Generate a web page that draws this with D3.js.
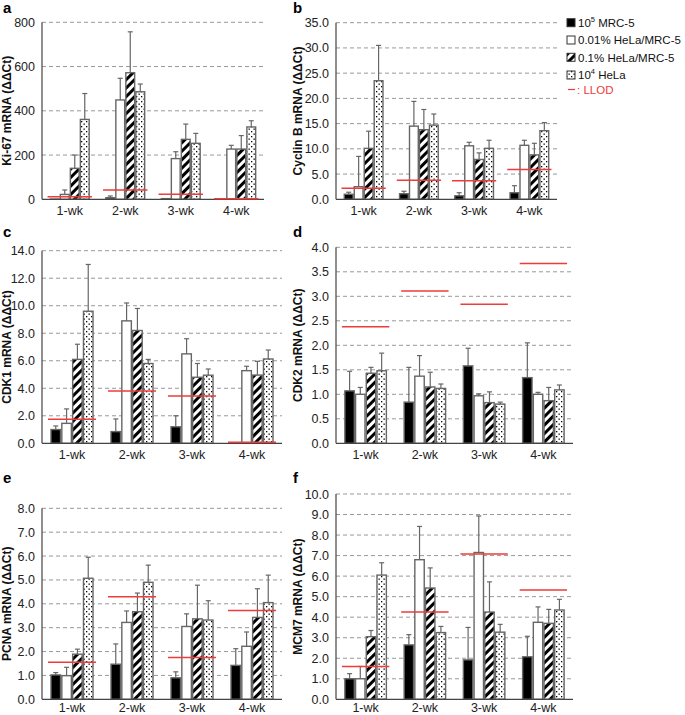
<!DOCTYPE html>
<html><head><meta charset="utf-8">
<script src="https://cdn.jsdelivr.net/npm/d3@7"></script>
<style>body{margin:0;background:#fff;} svg{display:block;font-family:"Liberation Sans",Arial,sans-serif;}</style>
</head><body>
<script>
// ---------- data ----------
const weeks = ["1-wk","2-wk","3-wk","4-wk"];
const seriesKeys = ["mrc5","hela001","hela01","hela"];

// Ki-67 (a)
const ki67Mean = {mrc5:[1,7,3,0], hela001:[22,449,184,227], hela01:[140,572,271,227], hela:[361,486,253,327]};
const ki67Sd   = {mrc5:[0,8,0,0], hela001:[20,98,31,17], hela01:[60,185,69,61], hela:[117,35,45,28]};
const ki67Llod = [12,42,23,2];
const ki67Ticks = [0,200,400,600,800];

// Cyclin B (b)
const cycMean = {mrc5:[1.0,1.1,0.7,1.3], hela001:[2.5,14.5,10.6,10.7], hela01:[10.1,13.8,7.9,8.8], hela:[23.5,14.7,10.1,13.6]};
const cycSd   = {mrc5:[0.4,0.5,0.6,1.4], hela001:[6.0,4.9,0.7,1.0], hela01:[3.4,4.0,1.3,2.3], hela:[7.0,2.2,1.6,1.6]};
const cycLlod = [2.2,3.8,3.7,5.9];
const cycTicks = [0,5,10,15,20,25,30,35];

// CDK1 (c)
const cdk1Mean = {mrc5:[1.0,0.85,1.2,0], hela001:[1.45,8.9,6.5,5.28], hela01:[6.1,8.2,4.8,4.96], hela:[9.6,5.8,4.95,6.13]};
const cdk1Sd   = {mrc5:[0.26,0.92,0.8,0], hela001:[1.05,1.3,1.1,0.32], hela01:[1.1,1.6,1.0,1.0], hela:[3.4,0.3,0.45,0.65]};
const cdk1Llod = [1.75,3.8,3.44,0.08];
const cdk1Ticks = [0,2,4,6,8,10,12,14];

// CDK2 (d)
const cdk2Mean = {mrc5:[1.07,0.84,1.58,1.34], hela001:[1.0,1.37,0.97,1.0], hela01:[1.43,1.15,0.83,0.87], hela:[1.48,1.12,0.80,1.09]};
const cdk2Sd   = {mrc5:[0.4,0.71,0.36,0.71], hela001:[0.14,0.42,0.04,0.04], hela01:[0.12,0.3,0.22,0.27], hela:[0.36,0.09,0.04,0.1]};
const cdk2Llod = [2.38,3.11,2.84,3.67];
const cdk2Ticks = [0,0.5,1,1.5,2,2.5,3,3.5,4];

// PCNA (e)
const pcnaMean = {mrc5:[1.02,1.47,0.9,1.42], hela001:[0.99,3.22,3.05,2.22], hela01:[1.89,3.67,3.37,3.43], hela:[5.07,4.9,3.32,4.05]};
const pcnaSd   = {mrc5:[0.1,0.85,0.25,0.7], hela001:[0.35,0.48,0.53,0.6], hela01:[0.21,0.78,1.41,1.2], hela:[0.88,0.72,0.81,1.15]};
const pcnaLlod = [1.55,4.3,1.75,3.72];
const pcnaTicks = [0,1,2,3,4,5,6,7,8];

// MCM7 (f)
const mcmMean = {mrc5:[1.0,2.65,1.92,2.07], hela001:[1.0,6.8,7.15,3.75], hela01:[3.05,5.42,4.25,3.7], hela:[6.05,3.25,3.27,4.35]};
const mcmSd   = {mrc5:[0.25,0.5,1.58,1.0], hela001:[0.6,1.62,1.78,0.75], hela01:[0.3,0.98,1.47,0.68], hela:[0.6,0.3,0.38,0.52]};
const mcmLlod = [1.6,4.25,7.08,5.32];
const mcmTicks = [0,1,2,3,4,5,6,7,8,9,10];

// ---------- drawing ----------
const svg = d3.select("body").append("svg").attr("width",685).attr("height",715);
const defs = svg.append("defs");
const hp = defs.append("pattern").attr("id","hatch").attr("patternUnits","userSpaceOnUse")
  .attr("width",6).attr("height",6).attr("patternTransform","rotate(45)");
hp.append("rect").attr("width",6).attr("height",6).attr("fill","#fff");
hp.append("rect").attr("width",3).attr("height",6).attr("fill","#000");
const dp = defs.append("pattern").attr("id","dots").attr("patternUnits","userSpaceOnUse")
  .attr("width",5).attr("height",5);
dp.append("rect").attr("width",5).attr("height",5).attr("fill","#fff");
dp.append("rect").attr("x",1).attr("y",1).attr("width",1.3).attr("height",1.3).attr("fill","#000");
dp.append("rect").attr("x",3.5).attr("y",3.5).attr("width",1.3).attr("height",1.3).attr("fill","#000");

const fills = {mrc5:"#000", hela001:"#fff", hela01:"url(#hatch)", hela:"url(#dots)"};
const RED = "#ee3b3b";

function panel(cfg){
  const g = svg.append("g");
  const x = d3.scaleBand().domain(weeks).range([cfg.x0,cfg.x1]).paddingInner(0.3).paddingOuter(0.15);
  const xs = d3.scaleBand().domain(seriesKeys).range([0,x.bandwidth()]).paddingInner(0.12);
  const y = d3.scaleLinear().domain([0,cfg.max]).range([cfg.yBot,cfg.yTop]);
  // grid
  g.selectAll(".grid").data(cfg.ticks.filter(t=>t>0)).join("line")
    .attr("x1",cfg.x0).attr("x2",cfg.x1).attr("y1",d=>y(d)).attr("y2",d=>y(d))
    .attr("stroke","#999").attr("stroke-width",1).attr("stroke-dasharray","4,3");
  // y axis labels
  const ya = d3.axisLeft(y).tickValues(cfg.ticks).tickFormat(cfg.fmt).tickSize(0).tickPadding(7);
  const yg = g.append("g").attr("transform",`translate(${cfg.x0},0)`).call(ya);
  yg.select(".domain").remove();
  yg.selectAll("text").attr("font-size",12.5).attr("fill","#222").attr("font-family","Liberation Sans, Arial");
  // bars
  seriesKeys.forEach(k=>{
    const data = weeks.map((w,i)=>({w, v:cfg.mean[k][i], sd:cfg.sd[k][i]}));
    g.selectAll(".b"+k).data(data.filter(d=>d.v>0)).join("rect")
      .attr("x",d=>x(d.w)+xs(k)).attr("width",xs.bandwidth())
      .attr("y",d=>y(d.v)).attr("height",d=>y(0)-y(d.v))
      .attr("fill",fills[k]).attr("stroke","#666").attr("stroke-width",1.4);
    const eb = data.filter(d=>d.sd>0);
    g.selectAll(".e"+k).data(eb).join("line")
      .attr("x1",d=>x(d.w)+xs(k)+xs.bandwidth()/2).attr("x2",d=>x(d.w)+xs(k)+xs.bandwidth()/2)
      .attr("y1",d=>y(d.v)).attr("y2",d=>y(d.v+d.sd)).attr("stroke","#666").attr("stroke-width",1.2);
    g.selectAll(".c"+k).data(eb).join("line")
      .attr("x1",d=>x(d.w)+xs(k)+xs.bandwidth()/2-2.5).attr("x2",d=>x(d.w)+xs(k)+xs.bandwidth()/2+2.5)
      .attr("y1",d=>y(d.v+d.sd)).attr("y2",d=>y(d.v+d.sd)).attr("stroke","#666").attr("stroke-width",1.2);
  });
  // axes lines
  g.append("line").attr("x1",cfg.x0).attr("x2",cfg.x0).attr("y1",cfg.yTop).attr("y2",cfg.yBot).attr("stroke","#444").attr("stroke-width",1.2);
  g.append("line").attr("x1",cfg.x0).attr("x2",cfg.x1).attr("y1",cfg.yBot).attr("y2",cfg.yBot).attr("stroke","#444").attr("stroke-width",1.2);
  // LLOD
  g.selectAll(".llod").data(weeks.map((w,i)=>({w,v:cfg.llod[i]}))).join("line")
    .attr("x1",d=>x(d.w)+x.bandwidth()/2-x.step()*0.4).attr("x2",d=>x(d.w)+x.bandwidth()/2+x.step()*0.4)
    .attr("y1",d=>y(d.v)).attr("y2",d=>y(d.v)).attr("stroke",RED).attr("stroke-width",1.5);
  // x labels
  const xa = d3.axisBottom(x).tickSize(0).tickPadding(cfg.xpad||7);
  const xg = g.append("g").attr("transform",`translate(0,${cfg.yBot})`).call(xa);
  xg.select(".domain").remove();
  xg.selectAll("text").attr("font-size",12.5).attr("fill","#222").attr("font-family","Liberation Sans, Arial");
  // y title
  g.append("text").attr("transform",`translate(${cfg.tx},${(cfg.yTop+cfg.yBot)/2}) rotate(-90)`)
    .attr("text-anchor","middle").attr("font-weight","bold").attr("font-size",12).attr("fill","#111").text(cfg.title);
  // panel letter
  g.append("text").attr("x",cfg.lx).attr("y",cfg.ly).attr("font-weight","bold").attr("font-size",15).attr("fill","#000").text(cfg.letter);
}

const f1 = d3.format(".1f");
panel({letter:"a",lx:3,ly:13,x0:42,x1:264,yTop:22.3,yBot:199.3,max:800,ticks:ki67Ticks,fmt:d3.format("d"),mean:ki67Mean,sd:ki67Sd,llod:ki67Llod,title:"Ki-67 mRNA (ΔΔCt)",tx:11});
panel({letter:"b",lx:293,ly:13,x0:336,x1:557,yTop:22.7,yBot:199.3,max:35,ticks:cycTicks,fmt:f1,mean:cycMean,sd:cycSd,llod:cycLlod,title:"Cyclin B mRNA (ΔΔCt)",tx:302});
panel({letter:"c",lx:3,ly:237,x0:42,x1:282,yTop:250.7,yBot:443.3,max:14,ticks:cdk1Ticks,fmt:f1,mean:cdk1Mean,sd:cdk1Sd,llod:cdk1Llod,title:"CDK1 mRNA (ΔΔCt)",tx:11});
panel({letter:"d",lx:293,ly:237,x0:336,x1:573,yTop:247.3,yBot:443.3,max:4,ticks:cdk2Ticks,fmt:f1,mean:cdk2Mean,sd:cdk2Sd,llod:cdk2Llod,title:"CDK2 mRNA (ΔΔCt)",tx:302});
panel({letter:"e",lx:3,ly:483,x0:42,x1:282,yTop:508.3,yBot:699.3,max:8,ticks:pcnaTicks,fmt:f1,mean:pcnaMean,sd:pcnaSd,llod:pcnaLlod,title:"PCNA mRNA (ΔΔCt)",tx:11,xpad:4});
panel({letter:"f",lx:293,ly:483,x0:336,x1:573,yTop:494,yBot:699.3,max:10,ticks:mcmTicks,fmt:f1,mean:mcmMean,sd:mcmSd,llod:mcmLlod,title:"MCM7 mRNA (ΔΔCt)",tx:302,xpad:4});

// legend
const legendItems = [
  {k:"mrc5", base:"10", sup:"5", rest:" MRC-5"},
  {k:"hela001", base:"0.01% HeLa/MRC-5", sup:"", rest:""},
  {k:"hela01", base:"0.1% HeLa/MRC-5", sup:"", rest:""},
  {k:"hela", base:"10", sup:"4", rest:" HeLa"}
];
const legY = [22.7,40,57.3,75];
const lg = svg.append("g");
legendItems.forEach((it,i)=>{
  lg.append("rect").attr("x",567).attr("y",legY[i]-4).attr("width",8).attr("height",8)
    .attr("fill",fills[it.k]).attr("stroke","#333").attr("stroke-width",1);
  const t = lg.append("text").attr("x",578).attr("y",legY[i]+4.3).attr("font-size",11.5).attr("fill","#111");
  t.append("tspan").text(it.base);
  if(it.sup){ t.append("tspan").attr("font-size",7.5).attr("dy",-5).text(it.sup);
              t.append("tspan").attr("dy",5).text(it.rest); }
});
lg.append("line").attr("x1",568).attr("x2",575).attr("y1",89.5).attr("y2",89.5).attr("stroke",RED).attr("stroke-width",1.2);
lg.append("text").attr("x",577).attr("y",93.5).attr("font-size",11.5).attr("fill",RED).text(": LLOD");
</script>
</body></html>
